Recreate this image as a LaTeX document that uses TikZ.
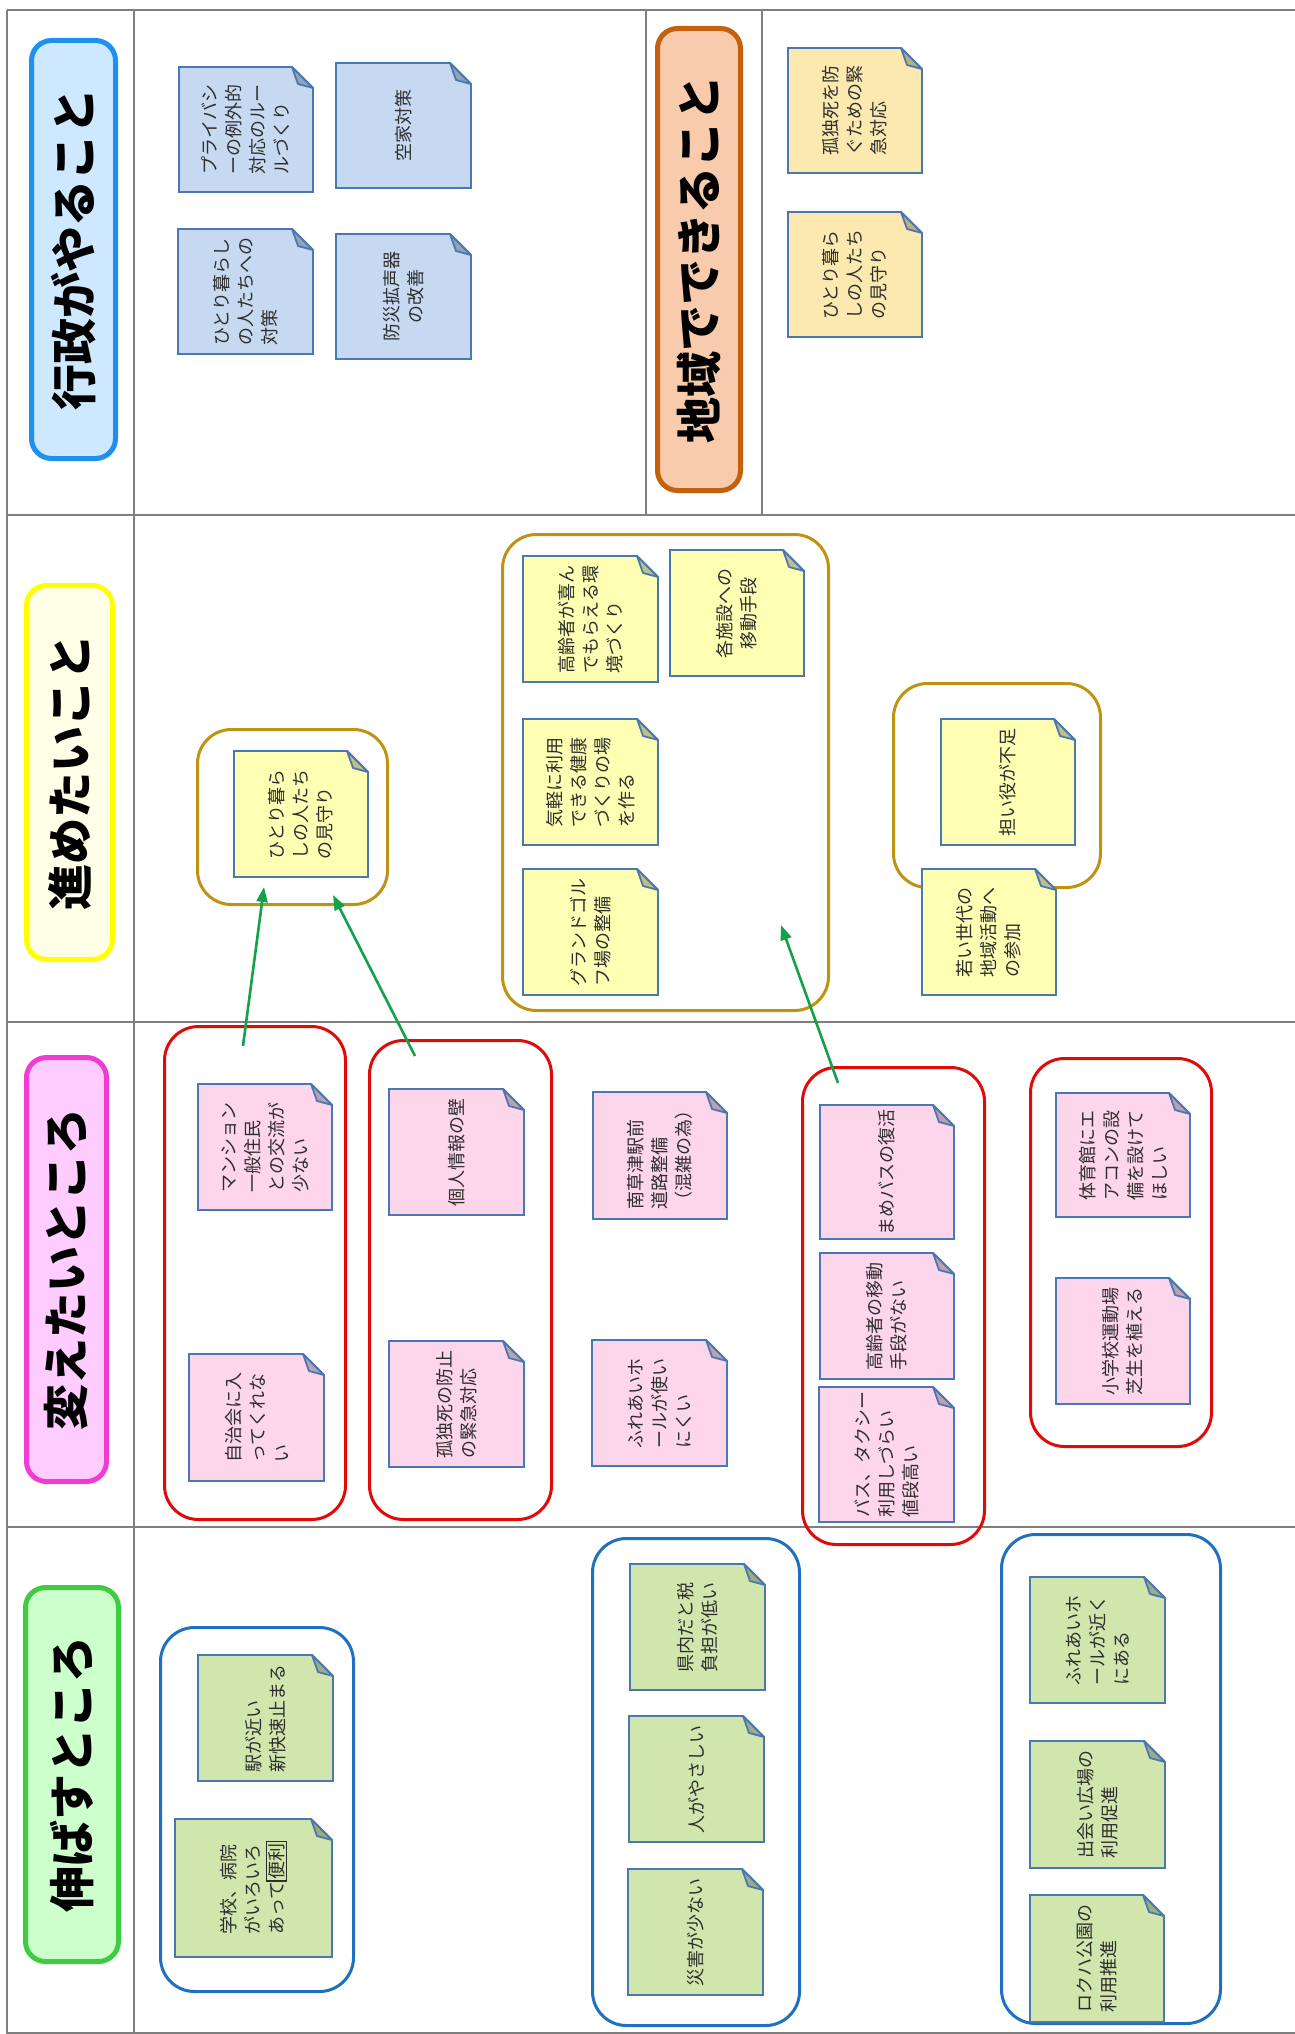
\documentclass[tikz,border=0pt]{standalone}
\usepackage{fontspec}
\setmainfont{Noto Sans CJK JP}
\usetikzlibrary{arrows.meta}
\definecolor{gridc}{HTML}{7F7F7F}
\definecolor{notec}{HTML}{4A78B0}
\definecolor{bluen}{HTML}{C6D9F1}
\definecolor{peachn}{HTML}{FCE9AF}
\definecolor{yelln}{HTML}{FFFFB3}
\definecolor{pinkn}{HTML}{FDD6EC}
\definecolor{greenn}{HTML}{D1E6AD}
\definecolor{goldc}{HTML}{BF9312}
\definecolor{redc}{HTML}{E00A0A}
\definecolor{bluec}{HTML}{1F70C1}
\definecolor{arrowc}{HTML}{13A14A}
\definecolor{lab1d}{HTML}{1E90F0}\definecolor{lab1f}{HTML}{CDE8FF}
\definecolor{lab2d}{HTML}{C5600F}\definecolor{lab2f}{HTML}{F7CBAB}
\definecolor{lab3d}{HTML}{FFFF00}\definecolor{lab3f}{HTML}{FFFFE8}
\definecolor{lab4d}{HTML}{F03CD2}\definecolor{lab4f}{HTML}{FFCCFF}
\definecolor{lab5d}{HTML}{40CC40}\definecolor{lab5f}{HTML}{CCFFCC}
\tikzset{
  tableline/.style={draw=gridc, line width=1.6pt},
  notebd/.style={draw=notec, line width=1.8pt, line join=miter},
  notetxt/.style={rotate=90, inner sep=0pt, font=\fontsize{18}{24}\selectfont, text=black!82},
  labelbox/.style={rotate=90, rounded corners=20pt, line width=5pt, inner sep=0pt, font=\bfseries\fontsize{46}{50}\selectfont},
  grpbox/.style={rounded corners=34pt, line width=3pt, inner sep=0pt},
  goldgrp/.style={grpbox, draw=goldc},
  redgrp/.style={grpbox, draw=redc},
  bluegrp/.style={grpbox, draw=bluec},
  conn/.style={draw=arrowc, line width=2.6pt, -{Triangle[length=15pt,width=11pt]}}
}
\setlength{\fboxsep}{1pt}
\setlength{\fboxrule}{1.2pt}
% sticky note: [align]{name}{x0}{y0}{x1}{y1}{colour}{text}
\newcommand\stk[8][left]{%
  \draw[notebd, fill=#7] (#3,#4) -- (#5-21,#4) -- (#5,#4+21) -- (#5,#6) -- (#3,#6) -- cycle;
  \draw[notebd, fill=#7!75!black, line join=round] (#5-21,#4) -- (#5-15,#4+17) -- (#5,#4+21) -- cycle;
  \node[notetxt, align=#1] (#2) at ({(#3+#5)/2},{(#4+#6)/2}) {#8};
}
% group box: {name}{x0}{y0}{x1}{y1}{style}
\newcommand\grp[6]{%
  \node[#6, minimum width={#4-#2-3}, minimum height={#5-#3-3}] (#1) at ({(#2+#4)/2},{(#3+#5)/2}) {};
}
\begin{document}
\begin{tikzpicture}[x=1pt,y=-1pt]
\fill[white] (0,0) rectangle (1295,2034);
\useasboundingbox (0,0) rectangle (1295,2034);
% table
\draw[tableline] (7,10) -- (1295,10);
\draw[tableline] (1295,2033) -- (7,2033) -- (7,10);
\draw[tableline] (134,10) -- (134,2033);
\draw[tableline] (7,515) -- (1295,515);
\draw[tableline] (7,1022) -- (1295,1022);
\draw[tableline] (7,1527) -- (1295,1527);
\draw[tableline] (646,10) -- (646,515);
\draw[tableline] (762,10) -- (762,515);
% labels
\node[labelbox, draw=lab1d, fill=lab1f, minimum width=418, minimum height=84] (L1) at (73.5,249.5) {行政がやること};
\node[labelbox, draw=lab2d, fill=lab2f, minimum width=462, minimum height=83] (L2) at (699,259.5) {地域でできること};
\node[labelbox, draw=lab3d, fill=lab3f, minimum width=374, minimum height=86] (L3) at (69.5,772.5) {進めたいこと};
\node[labelbox, draw=lab4d, fill=lab4f, minimum width=424, minimum height=80] (L4) at (66.5,1269.5) {変えたいところ};
\node[labelbox, draw=lab5d, fill=lab5f, minimum width=374, minimum height=93] (L5) at (72,1774.5) {伸ばすところ};
% group boxes
\grp{gA}{196}{728}{389}{906}{goldgrp}
\grp{gB}{501}{533}{830}{1012}{goldgrp}
\grp{gC}{892}{682}{1102}{889}{goldgrp}
\grp{r1}{163}{1025}{347}{1521}{redgrp}
\grp{r2}{368}{1039}{553}{1521}{redgrp}
\grp{r3}{801}{1066}{986}{1546}{redgrp}
\grp{r4}{1029}{1057}{1213}{1448}{redgrp}
\grp{b1}{159}{1626}{355}{1993}{bluegrp}
\grp{b2}{591}{1537}{801}{2027}{bluegrp}
\grp{b3}{1000}{1533}{1222}{2025}{bluegrp}
% row 1
\stk{n11}{179}{67}{313}{192}{bluen}{プライバシ\\ーの例外的\\対応のルー\\ルづくり}
\stk[center]{n12}{336}{63}{471}{188}{bluen}{空家対策}
\stk{n13}{178}{229}{313}{354}{bluen}{ひとり暮らし\\の人たちへの\\対策}
\stk[center]{n14}{336}{234}{471}{359}{bluen}{防災拡声器\\の改善}
\stk{n15}{788}{48}{922}{173}{peachn}{孤独死を防\\ぐための緊\\急対応}
\stk{n16}{788}{212}{922}{337}{peachn}{ひとり暮ら\\しの人たち\\の見守り}
% row 2
\stk{n21}{234}{751}{368}{877}{yelln}{ひとり暮ら\\しの人たち\\の見守り}
\stk{n22}{523}{556}{658}{682}{yelln}{高齢者が喜ん\\でもらえる環\\境づくり}
\stk[center]{n23}{670}{550}{804}{676}{yelln}{各施設への\\移動手段}
\stk{n24}{523}{719}{658}{845}{yelln}{気軽に利用\\できる健康\\づくりの場\\を作る}
\stk{n25}{523}{869}{658}{995}{yelln}{グランドゴル\\フ場の整備}
\stk[center]{n26}{941}{719}{1075}{845}{yelln}{担い役が不足}
\stk{n27}{922}{869}{1056}{995}{yelln}{若い世代の\\地域活動へ\\の参加}
% row 3
\stk{n31}{198}{1084}{332}{1210}{pinkn}{マンション\\一般住民\\との交流が\\少ない}
\stk{n32}{189}{1354}{324}{1481}{pinkn}{自治会に入\\ってくれな\\い}
\stk[center]{n33}{389}{1089}{524}{1215}{pinkn}{個人情報の壁}
\stk{n34}{389}{1341}{524}{1467}{pinkn}{孤独死の防止\\の緊急対応}
\stk{n35}{593}{1092}{727}{1219}{pinkn}{南草津駅前\\道路整備\\（混雑の為）}
\stk{n36}{592}{1340}{727}{1466}{pinkn}{ふれあいホ\\ールが使い\\にくい}
\stk[center]{n37}{820}{1105}{954}{1239}{pinkn}{まめバスの復活}
\stk{n38}{820}{1253}{954}{1379}{pinkn}{高齢者の移動\\手段がない}
\stk{n39}{819}{1387}{954}{1522}{pinkn}{バス、タクシー\\利用しづらい\\値段高い}
\stk{n310}{1056}{1093}{1190}{1217}{pinkn}{体育館にエ\\アコンの設\\備を設けて\\ほしい}
\stk{n311}{1056}{1278}{1190}{1404}{pinkn}{小学校運動場\\芝生を植える}
% row 4
\stk{n41}{198}{1655}{333}{1781}{greenn}{駅が近い\\新快速止まる}
\stk{n42}{175}{1819}{332}{1957}{greenn}{学校、病院\\がいろいろ\\あって\fbox{便利}}
\stk{n43}{630}{1564}{765}{1690}{greenn}{県内だと税\\負担が低い}
\stk[center]{n44}{629}{1716}{764}{1842}{greenn}{人がやさしい}
\stk[center]{n45}{628}{1869}{763}{1995}{greenn}{災害が少ない}
\stk{n46}{1030}{1577}{1165}{1703}{greenn}{ふれあいホ\\ールが近く\\にある}
\stk{n47}{1030}{1741}{1165}{1868}{greenn}{出会い広場の\\利用促進}
\stk{n48}{1030}{1895}{1164}{2022}{greenn}{ロクハ公園の\\利用推進}
% connectors
\coordinate (a1s) at (243,1046); \coordinate (a1e) at (264,887);
\coordinate (a2s) at (415,1056); \coordinate (a2e) at (333,895);
\coordinate (a3s) at (838,1083); \coordinate (a3e) at (781,925);
\draw[conn] (a1s) -- (a1e);
\draw[conn] (a2s) -- (a2e);
\draw[conn] (a3s) -- (a3e);
\end{tikzpicture}
\end{document}
